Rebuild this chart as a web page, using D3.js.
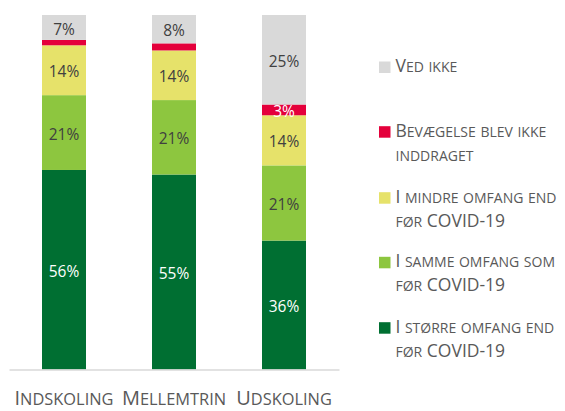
<!DOCTYPE html>
<html>
<head>
<meta charset="utf-8">
<script src="https://cdn.jsdelivr.net/npm/d3@7"></script>
<style>
  html, body { margin: 0; padding: 0; background: #fff; }
  svg { display: block; font-family: "Open Sans", "Noto Sans", sans-serif; }
</style>
</head>
<body>
<svg id="chart" width="565" height="411"></svg>
<script>
// Categories along the x axis
const categories = ["Indskoling", "Mellemtrin", "Udskoling"];

// Stack order, bottom to top
const seriesKeys = ["storre", "samme", "mindre", "ikke", "vedikke"];
const seriesNames = [
  ["I større omfang end", "før COVID-19"],
  ["I samme omfang som", "før COVID-19"],
  ["I mindre omfang end", "før COVID-19"],
  ["Bevægelse blev ikke", "inddraget"],
  ["Ved ikke"]
];
const seriesColors = ["#006f32", "#8dc63f", "#e6e26a", "#e4003b", "#d9d9d9"];
const labelColors = ["#ffffff", "#404040", "#404040", "#ffffff", "#404040"];

// Shares (%) per category, one array per series
const storre  = [56, 55, 36];
const samme   = [21, 21, 21];
const mindre  = [14, 14, 14];
const ikke    = [1.5, 2, 3];
const vedikke = [7, 8, 25];

// Labels are shown only where the segment is large enough
const showLabel = [
  [true, true, true],
  [true, true, true],
  [true, true, true],
  [false, false, true],
  [true, true, true]
];

const seriesValues = [storre, samme, mindre, ikke, vedikke];
const rows = categories.map((c, i) => {
  const r = { category: c };
  seriesKeys.forEach((k, s) => r[k] = seriesValues[s][i]);
  return r;
});

// Writes a string in small capitals: lowercase letters become
// uppercase at a reduced size, everything else keeps the full size.
function smallCaps(textSel, str, size, ratio) {
  const runs = [];
  for (const ch of str) {
    const low = ch !== ch.toUpperCase();
    const last = runs[runs.length - 1];
    if (last && last.low === low) last.s += ch;
    else runs.push({ low, s: ch });
  }
  runs.forEach(r => {
    textSel.append("tspan")
      .attr("font-size", r.low ? size * ratio : size)
      .text(r.low ? r.s.toUpperCase() : r.s);
  });
}

const svg = d3.select("#chart");

const x = d3.scaleBand()
  .domain(categories)
  .range([9, 339])
  .paddingInner(0.6)
  .paddingOuter(0.3);

const y = d3.scaleLinear().domain([0, 1]).range([369.5, 15]);

const stack = d3.stack().keys(seriesKeys).offset(d3.stackOffsetExpand);
const layers = stack(rows);

const g = svg.append("g");

layers.forEach((layer, s) => {
  g.selectAll(null)
    .data(layer)
    .join("rect")
    .attr("x", d => x(d.data.category))
    .attr("width", x.bandwidth())
    .attr("y", d => y(d[1]))
    .attr("height", d => y(d[0]) - y(d[1]))
    .attr("fill", seriesColors[s]);
});

// Value labels
layers.forEach((layer, s) => {
  g.selectAll(null)
    .data(layer.filter((d, i) => showLabel[s][i]))
    .join("text")
    .attr("x", d => x(d.data.category) + x.bandwidth() / 2)
    .attr("y", d => (y(d[0]) + y(d[1])) / 2 + 1.5)
    .attr("dy", "0.36em")
    .attr("text-anchor", "middle")
    .attr("font-size", 15.5)
    .attr("fill", labelColors[s])
    .text(d => d.data[layer.key] + "%");
});

// Category axis
const axis = svg.append("g")
  .attr("transform", "translate(0,369.5)")
  .call(d3.axisBottom(x).tickSize(0).tickPadding(0));
axis.select(".domain").attr("stroke", "#d9d9d9").attr("stroke-width", 1.5);
axis.selectAll(".tick text").each(function(d) {
  const t = d3.select(this)
    .text(null)
    .attr("y", 35.5)
    .attr("dy", 0)
    .attr("font-family", "\"Open Sans\", \"Noto Sans\", sans-serif")
    .attr("fill", "#595959");
  smallCaps(t, d, 20, 0.82);
});

// Legend, listed top to bottom in reverse stack order
const legendBaselines = [72, 136.7, 202.7, 267.3, 332.7];
const legend = svg.append("g");
const legendOrder = [4, 3, 2, 1, 0];
legendOrder.forEach((s, i) => {
  const by = legendBaselines[i];
  legend.append("rect")
    .attr("x", 379)
    .attr("y", by - 10.5)
    .attr("width", 11.5)
    .attr("height", 11.5)
    .attr("fill", seriesColors[s]);
  seriesNames[s].forEach((line, j) => {
    const t = legend.append("text")
      .attr("x", 395.5)
      .attr("y", by + j * 24)
      .attr("fill", "#595959");
    smallCaps(t, line, 17.5, 0.8);
  });
});
</script>
</body>
</html>
